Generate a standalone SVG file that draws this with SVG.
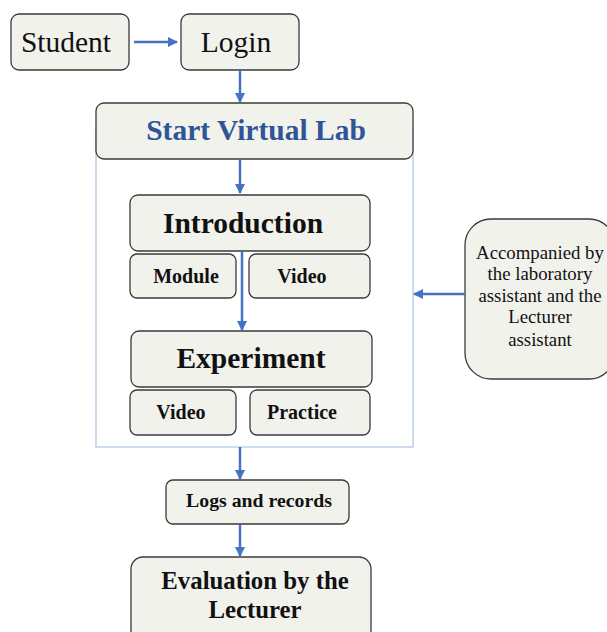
<svg xmlns="http://www.w3.org/2000/svg" width="607" height="632" viewBox="0 0 607 632">
<defs>
<style>
.box{fill:#f2f2ed;stroke:#3a3a3a;stroke-width:1.3}
.t{font-family:"Liberation Serif","Times New Roman",serif;fill:#111;text-anchor:middle}
.b{font-weight:bold}
.c{stroke:#4472c4;stroke-width:2.5;fill:none}
</style>
<marker id="ah" viewBox="0 0 10 10" refX="9" refY="5" markerWidth="4" markerHeight="4" orient="auto" markerUnits="strokeWidth">
<path d="M0,0 L10,5 L0,10 z" fill="#4472c4"/>
</marker>
</defs>
<rect width="607" height="632" fill="#ffffff"/>
<g id="frame"><rect x="96" y="130" width="317" height="317" fill="none" stroke="#b4c7e7" stroke-width="1.3"/></g>
<g id="student"><rect class="box" x="11" y="14" width="118" height="56" rx="8"/><text class="t" x="66" y="52" font-size="29.5">Student</text></g>
<g id="login"><rect class="box" x="181" y="14" width="118" height="56" rx="8"/><text class="t" x="236" y="52" font-size="29.5">Login</text></g>
<g id="start"><rect class="box" x="96" y="103" width="317" height="56" rx="8"/><text class="t b" x="256" y="140" font-size="29.5" style="fill:#2f5597">Start Virtual Lab</text></g>
<g id="intro"><rect class="box" x="130" y="195" width="240" height="56" rx="8"/><text class="t b" x="243" y="233" font-size="29.5">Introduction</text></g>
<g id="module"><rect class="box" x="130" y="254" width="106" height="44" rx="7"/><text class="t b" x="186" y="283" font-size="20">Module</text></g>
<g id="video1"><rect class="box" x="249" y="254" width="121" height="44" rx="7"/><text class="t b" x="302" y="283" font-size="20">Video</text></g>
<g id="experiment"><rect class="box" x="131" y="331" width="241" height="56" rx="8"/><text class="t b" x="251" y="368" font-size="29.5">Experiment</text></g>
<g id="video2"><rect class="box" x="130" y="390" width="106" height="45" rx="7"/><text class="t b" x="181" y="419" font-size="20">Video</text></g>
<g id="practice"><rect class="box" x="250" y="390" width="120" height="45" rx="7"/><text class="t b" x="302" y="419" font-size="20">Practice</text></g>
<g id="logs"><rect class="box" x="166" y="480" width="183" height="44" rx="7"/><text class="t b" x="259" y="507" font-size="19.8">Logs and records</text></g>
<g id="evaluation"><rect class="box" x="131" y="557" width="240" height="85" rx="12"/><text class="t b" x="255" y="589" font-size="24.8">Evaluation by the</text><text class="t b" x="255" y="618" font-size="24.8">Lecturer</text></g>
<g id="accompanied"><rect class="box" x="465" y="219" width="150" height="160" rx="26"/>
<text class="t" x="540" y="259" font-size="18.8">Accompanied by</text>
<text class="t" x="540" y="280" font-size="18.8">the laboratory</text>
<text class="t" x="540" y="302" font-size="18.8">assistant and the</text>
<text class="t" x="540" y="323" font-size="18.8">Lecturer</text>
<text class="t" x="540" y="346" font-size="18.8">assistant</text></g>
<g id="connectors">
<line class="c" x1="134" y1="42" x2="177" y2="42" marker-end="url(#ah)"/>
<line class="c" x1="240" y1="70" x2="240" y2="102" marker-end="url(#ah)"/>
<line class="c" x1="240" y1="159" x2="240" y2="193" marker-end="url(#ah)"/>
<line class="c" x1="242" y1="251" x2="242" y2="330" marker-end="url(#ah)"/>
<line class="c" x1="240" y1="447" x2="240" y2="479" marker-end="url(#ah)"/>
<line class="c" x1="240" y1="524" x2="240" y2="556" marker-end="url(#ah)"/>
<line class="c" x1="465" y1="294" x2="414" y2="294" marker-end="url(#ah)"/>
</g>
</svg>
